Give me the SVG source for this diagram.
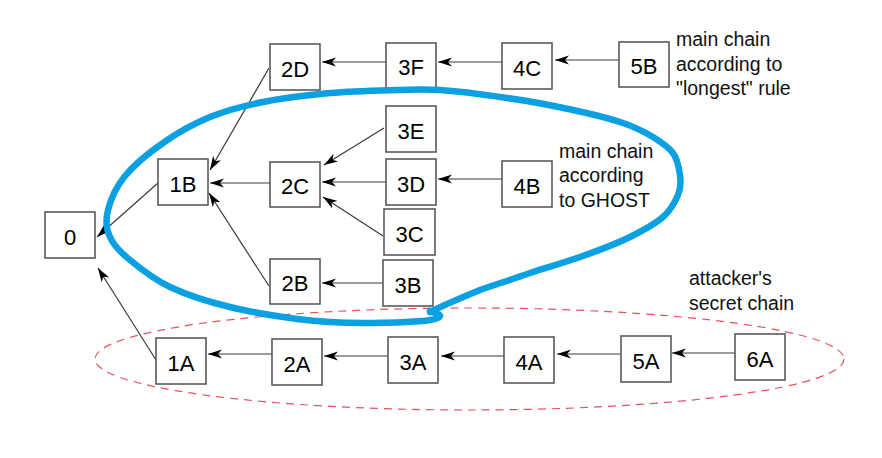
<svg xmlns="http://www.w3.org/2000/svg" width="882" height="458" viewBox="0 0 882 458">
<defs>
<marker id="arr" markerUnits="userSpaceOnUse" markerWidth="16" markerHeight="10" refX="14" refY="4.5" orient="auto">
<path d="M14,4.5 L0,0 L4,4.5 L0,9 Z" fill="#000"/>
</marker>
<style>
.box{fill:#fff;stroke:#5a5a5a;stroke-width:1.6}
.lbl{font-family:"Liberation Sans",Arial,sans-serif;font-size:22px;fill:#000;text-anchor:middle}
.note{font-family:"Liberation Sans",Arial,sans-serif;font-size:19.5px;fill:#111}
.con{stroke:#3a3a3a;stroke-width:1.2;fill:none;marker-end:url(#arr)}
</style>
</defs>
<rect width="882" height="458" fill="#fff"/>
<ellipse id="secret" cx="469.5" cy="359" rx="374.5" ry="51" fill="none" stroke="#e8505b" stroke-width="1.2" stroke-dasharray="8 6"/>
<g id="connectors">
<line class="con" x1="386" y1="62" x2="322" y2="62"/>
<line class="con" x1="502" y1="62" x2="438" y2="62"/>
<line class="con" x1="619" y1="60" x2="555" y2="60"/>
<line class="con" x1="269" y1="68" x2="210" y2="170"/>
<line class="con" x1="384" y1="128" x2="324" y2="165"/>
<line class="con" x1="270" y1="183" x2="210" y2="183"/>
<line class="con" x1="386" y1="182" x2="322" y2="182"/>
<line class="con" x1="502" y1="179" x2="438" y2="179"/>
<line class="con" x1="383" y1="236" x2="323" y2="197"/>
<line class="con" x1="269" y1="286" x2="209" y2="193"/>
<line class="con" x1="158" y1="183" x2="97" y2="237"/>
<line class="con" x1="156" y1="360" x2="98" y2="268"/>
<line class="con" x1="383" y1="283" x2="322" y2="283"/>
<line class="con" x1="272" y1="354" x2="208" y2="354"/>
<line class="con" x1="388" y1="356" x2="324" y2="356"/>
<line class="con" x1="504" y1="356" x2="441" y2="356"/>
<line class="con" x1="621" y1="354" x2="557" y2="354"/>
<line class="con" x1="735" y1="353" x2="672" y2="353"/>
</g>
<g id="n0"><rect class="box" x="45" y="212" width="50" height="46"/><text class="lbl" x="70" y="245">0</text></g>
<g id="n1B"><rect class="box" x="158" y="159" width="50" height="46"/><text class="lbl" x="183" y="192">1B</text></g>
<g id="n2D"><rect class="box" x="270" y="44" width="50" height="46"/><text class="lbl" x="295" y="77">2D</text></g>
<g id="n2C"><rect class="box" x="270" y="162" width="50" height="45"/><text class="lbl" x="295" y="194">2C</text></g>
<g id="n2B"><rect class="box" x="270" y="259" width="50" height="45"/><text class="lbl" x="295" y="291">2B</text></g>
<g id="n3F"><rect class="box" x="386" y="43" width="50" height="45"/><text class="lbl" x="411" y="75">3F</text></g>
<g id="n3E"><rect class="box" x="386" y="106" width="50" height="46"/><text class="lbl" x="411" y="139">3E</text></g>
<g id="n3D"><rect class="box" x="386" y="159" width="50" height="46"/><text class="lbl" x="411" y="192">3D</text></g>
<g id="n3C"><rect class="box" x="384" y="209" width="51" height="46"/><text class="lbl" x="409.5" y="242">3C</text></g>
<g id="n3B"><rect class="box" x="383" y="260" width="50" height="46"/><text class="lbl" x="408" y="293">3B</text></g>
<g id="n4C"><rect class="box" x="502" y="43" width="50" height="46"/><text class="lbl" x="527" y="76">4C</text></g>
<g id="n4B"><rect class="box" x="502" y="161" width="50" height="46"/><text class="lbl" x="527" y="194">4B</text></g>
<g id="n5B"><rect class="box" x="619" y="42" width="50" height="45"/><text class="lbl" x="644" y="74">5B</text></g>
<g id="n1A"><rect class="box" x="156" y="338" width="50" height="46"/><text class="lbl" x="181" y="371">1A</text></g>
<g id="n2A"><rect class="box" x="272" y="339" width="50" height="46"/><text class="lbl" x="297" y="372">2A</text></g>
<g id="n3A"><rect class="box" x="388" y="337" width="50" height="46"/><text class="lbl" x="413" y="370">3A</text></g>
<g id="n4A"><rect class="box" x="504" y="337" width="50" height="46"/><text class="lbl" x="529" y="370">4A</text></g>
<g id="n5A"><rect class="box" x="621" y="336" width="50" height="46"/><text class="lbl" x="646" y="369">5A</text></g>
<g id="n6A"><rect class="box" x="735" y="334" width="50" height="46"/><text class="lbl" x="760" y="367">6A</text></g>
<path id="ghost-loop" fill="none" stroke="#0aa0e2" stroke-width="6.5" stroke-linecap="round" stroke-linejoin="round" d="M430,312 C438,308 463,297 480,290 C497,284 513,279 530,273 C547,267.5 563,263 580,257 C597,251 616,244 630,237 C644,230 655,224 663,217 C671,210 675,202 678,195 C681,188 681,182 680,175 C679,168 677.5,159 673,153 C668.5,146.7 661,142 653,137 C644.7,132 636,127.5 623,123 C609.7,118.5 592,114 573,110 C553.7,105.8 529,101 507,98 C484.8,94.7 458,91 440,90 C421.7,88.7 415,89.5 397,90 C378.7,90.5 352,91 330,93 C307.7,95 283,98 263,102 C243,106 227,110 210,117 C193.3,123.8 177,133 163,143 C148.8,152.8 134,165 125,176 C115.8,187.2 110.5,200 108,210 C105.5,220 106,229 110,237 C113.7,245.3 120,252 130,260 C140,268.3 153,279 170,287 C186.7,294.8 209,302 230,307 C251,312.3 275,316 297,319 C319,321.7 342,323 363,323 C384,323.3 410,322 423,321 C436,319.8 439,318 440,316 C441,314.3 432,312 430,311"/>
<g id="notes">
<text class="note" x="676" y="46">main chain</text>
<text class="note" x="676" y="70.5">according to</text>
<text class="note" x="676" y="95">"longest" rule</text>
<text class="note" x="559" y="158">main chain</text>
<text class="note" x="559" y="182">according</text>
<text class="note" x="559" y="206.5">to GHOST</text>
<text class="note" x="689" y="285">attacker's</text>
<text class="note" x="689" y="310">secret chain</text>
</g>
</svg>
